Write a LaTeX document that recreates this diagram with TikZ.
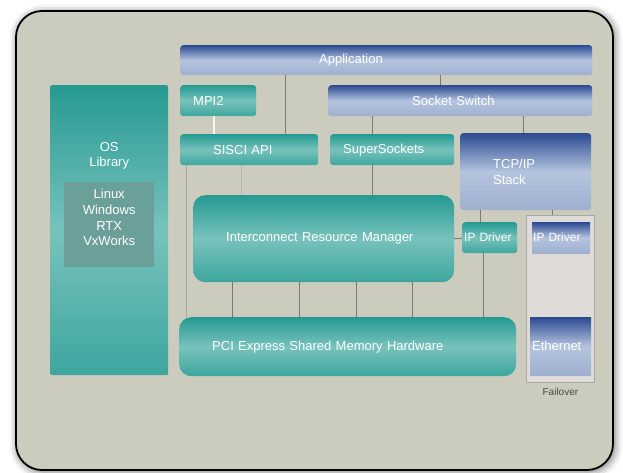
\documentclass[tikz,border=0pt]{standalone}
\usepackage{fontspec}
\setmainfont{Liberation Sans}
\usepackage{xcolor}
\definecolor{colorFrame}{HTML}{CCCCBE}
\definecolor{colorTealTop}{HTML}{259A92}
\definecolor{colorTealMid}{HTML}{78C2BC}
\definecolor{colorTealBot}{HTML}{3DA69E}
\definecolor{colorBlueTop}{HTML}{2B4A92}
\definecolor{colorBlueMid}{HTML}{B4C4DE}
\definecolor{colorBlueBot}{HTML}{9FB0D0}
\definecolor{colorOsList}{HTML}{6A9F9A}
\definecolor{colorFailover}{HTML}{DFDBD9}
\definecolor{colorFoBorder}{HTML}{A9A7A4}
\definecolor{colorFoText}{HTML}{4A4A48}
\definecolor{colorLine}{HTML}{7A7A72}
\usetikzlibrary{positioning, shadows.blur}
\tikzset{
  blk/.style={anchor=north west, inner ysep=0pt, align=left, text=white, font=\fontsize{13}{15.7}\selectfont, rounded corners=3pt},
  geo/.style n args={4}{minimum width=#1pt, minimum height=#2pt, inner xsep=#3pt, text width=#4pt},
  tealblk/.style={blk, top color=colorTealTop, bottom color=colorTealBot, middle color=colorTealMid},
  blueblk/.style={blk, top color=colorBlueTop, bottom color=colorBlueBot, middle color=colorBlueMid},
  lbl/.style={inner sep=0pt, align=center, text=white, font=\fontsize{13}{15.7}\selectfont},
  small/.style={font=\fontsize{12}{14}\selectfont},
  conn/.style={draw=colorLine, line width=0.8pt},
  frm/.style={fill=colorFrame, draw=black, line width=1.8pt, rounded corners=26pt, blur shadow={shadow xshift=1.5pt, shadow yshift=-1.5pt, shadow blur radius=8pt, shadow opacity=60}},
}

\begin{document}
\begin{tikzpicture}[x=1pt, y=-1pt]
\useasboundingbox (0,0) rectangle (623,472);
\draw[frm] (16,11) rectangle (613,470);
\node[tealblk, minimum width=118pt, minimum height=290pt, inner sep=0pt, rounded corners=2pt] (os) at (50,85) {};
\node[lbl, below=57pt of os.north] (osl) {OS\\Library};
\node[blk, fill=colorOsList, rounded corners=0pt, minimum width=90pt, minimum height=85pt, inner sep=0pt] (lst) at (64,182) {};
\node[lbl, below=7pt of lst.north] (lstl) {Linux\\Windows\\RTX\\VxWorks};
\node[blueblk, geo={412}{30}{139}{134}] (app) at (180,45) {Application};
\node[tealblk, geo={76}{31}{13}{50}] (mpi) at (180,85) {MPI2};
\node[blueblk, geo={264}{31}{84}{96}] (sw) at (328,85) {Socket Switch};
\node[tealblk, geo={138}{31}{33}{72}] (sisci) at (180,134) {SISCI API};
\node[tealblk, geo={124}{31}{13}{98}] (sso) at (330,134) {SuperSockets};
\node[blueblk, geo={131}{77}{33}{65}] (tcp) at (460,133) {TCP/IP\\Stack};
\node[tealblk, geo={261}{87}{33}{195}, rounded corners=12pt] (irm) at (193,195) {Interconnect Resource Manager};
\node[tealblk, small, geo={55}{31}{2}{51}] (ipd) at (462,222) {IP Driver};
\node[tealblk, geo={337}{59}{33}{271}, rounded corners=12pt] (pci) at (179,317) {PCI Express Shared Memory Hardware};
\node[anchor=north west, fill=colorFailover, draw=colorFoBorder, line width=0.8pt, minimum width=68pt, minimum height=167pt, inner sep=0pt] (fo) at (526,215) {};
\node[blueblk, small, rounded corners=0pt, geo={58}{31}{1}{56}] (ipf) at (532,222) {IP Driver};
\node[blueblk, rounded corners=0pt, geo={61}{58}{2}{57}] (eth) at (530,317) {Ethernet};
\node[below=2pt of fo, font=\fontsize{10}{12}\selectfont, text=colorFoText] (fol) {Failover};
\draw [conn] (app.south -| 285,0) -- (sisci.north -| 285,0);
\draw [conn] (app.south -| 440,0) -- (sw.north -| 440,0);
\draw [draw=colorLine!60, double=white!80!colorFrame, double distance=1.2pt, line width=0.5pt] (mpi.south -| 214,0) -- (sisci.north -| 214,0);
\draw [conn] (sw.south -| 372,0) -- (sso.north -| 372,0);
\draw [conn] (sw.south -| 523,0) -- (tcp.north -| 523,0);
\draw [conn, draw=colorLine!55] (sisci.south -| 241,0) -- (irm.north -| 241,0);
\draw [conn] (sso.south -| 372,0) -- (irm.north -| 372,0);
\draw [conn, draw=colorLine!65] (sisci.south -| 186,0) -- (pci.north -| 186,0);
\draw [conn] (tcp.south -| 480,0) -- (ipd.north -| 480,0);
\draw [conn] (tcp.south -| 552,0) -- (fo.north -| 552,0);
\draw [conn] (irm.east) -- (irm.east -| ipd.west);
\draw [conn] (ipd.south -| 483,0) -- (pci.north -| 483,0);
\draw [conn] (irm.south -| 232,0) -- (pci.north -| 232,0);
\draw [conn] (irm.south -| 299,0) -- (pci.north -| 299,0);
\draw [conn] (irm.south -| 356,0) -- (pci.north -| 356,0);
\draw [conn] (irm.south -| 412,0) -- (pci.north -| 412,0);
\end{tikzpicture}
\end{document}
